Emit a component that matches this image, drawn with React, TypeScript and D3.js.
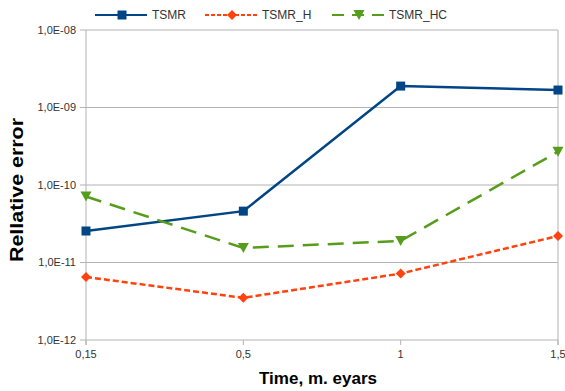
import React from "react";
import * as d3 from "d3";

const categories = ["0,15", "0,5", "1", "1,5"];
const tsmr = [2.55e-11, 4.6e-11, 1.89e-9, 1.68e-9];
const tsmrH = [6.5e-12, 3.5e-12, 7.2e-12, 2.2e-11];
const tsmrHC = [7.1e-11, 1.54e-11, 1.9e-11, 2.69e-10];
const yTicks = [1e-12, 1e-11, 1e-10, 1e-9, 1e-8];
const yTickLabels = ["1,0E-12", "1,0E-11", "1,0E-10", "1,0E-09", "1,0E-08"];

const series = [
  { name: "TSMR", values: tsmr, color: "#004586", dash: "", marker: "square" },
  { name: "TSMR_H", values: tsmrH, color: "#ff420e", dash: "6,3", marker: "diamond" },
  { name: "TSMR_HC", values: tsmrHC, color: "#579d1c", dash: "16,9", marker: "triangle" },
];

const width = 565;
const height = 391;
const margin = { top: 30, right: 7, bottom: 51, left: 86 };
const font = "'Liberation Sans', Arial, sans-serif";

function Marker({ type, x, y, color }) {
  if (type === "square") {
    return <rect x={x - 4.5} y={y - 4.5} width={9} height={9} fill={color} />;
  }
  if (type === "diamond") {
    return <path d={`M${x},${y - 5}L${x + 5},${y}L${x},${y + 5}L${x - 5},${y}Z`} fill={color} />;
  }
  return <path d={`M${x - 5.5},${y - 5}L${x + 5.5},${y - 5}L${x},${y + 5}Z`} fill={color} />;
}

export default function App() {
  const x = d3
    .scalePoint()
    .domain(categories)
    .range([margin.left, width - margin.right]);
  const y = d3
    .scaleLog()
    .domain([1e-12, 1e-8])
    .range([height - margin.bottom, margin.top]);

  const line = d3
    .line<number>()
    .x((_, i) => x(categories[i]))
    .y((d) => y(d));

  const legendX = [95, 205, 332];

  return (
    <svg width={width} height={height} style={{ position: "absolute", left: 0, top: 0, background: "#fff" }}>
      {/* grid */}
      {yTicks.map((t, i) => (
        <g key={i}>
          <line x1={margin.left - 6} x2={width - margin.right} y1={y(t)} y2={y(t)} stroke="#b3b3b3" strokeWidth={1} />
          <text x={margin.left - 10} y={y(t)} dy="0.35em" textAnchor="end" fontSize={11} fontFamily={font} fill="#333">
            {yTickLabels[i]}
          </text>
        </g>
      ))}
      {categories.map((c, i) => (
        <g key={c}>
          <line x1={x(c)} x2={x(c)} y1={margin.top} y2={height - margin.bottom + 5} stroke="#b3b3b3" strokeWidth={i === 0 || i === categories.length - 1 ? 1 : 0} />
          <line x1={x(c)} x2={x(c)} y1={height - margin.bottom} y2={height - margin.bottom + 5} stroke="#b3b3b3" />
          <text x={x(c)} y={height - margin.bottom + 18} textAnchor="middle" fontSize={11} fontFamily={font} fill="#333">
            {c}
          </text>
        </g>
      ))}

      {/* series */}
      {series.map((s) => (
        <g key={s.name}>
          <path d={line(s.values)} fill="none" stroke={s.color} strokeWidth={2.5} strokeDasharray={s.dash} />
          {s.values.map((v, i) => (
            <Marker key={i} type={s.marker} x={x(categories[i])} y={y(v)} color={s.color} />
          ))}
        </g>
      ))}

      {/* legend */}
      {series.map((s, i) => (
        <g key={s.name}>
          <line x1={legendX[i]} x2={legendX[i] + 52} y1={15} y2={15} stroke={s.color} strokeWidth={2} strokeDasharray={s.dash ? (i === 1 ? "4,2" : "12,8") : ""} />
          <Marker type={s.marker} x={legendX[i] + 27} y={15} color={s.color} />
          <text x={legendX[i] + 57} y={15} dy="0.35em" fontSize={12} fontFamily={font} fill="#333">
            {s.name}
          </text>
        </g>
      ))}

      {/* axis titles */}
      <text x={318} y={384} textAnchor="middle" fontSize={17} fontWeight="bold" fontFamily={font} fill="#000" textLength={118} lengthAdjust="spacingAndGlyphs">
        Time, m. eyars
      </text>
      <text transform="translate(23,190) rotate(-90)" textAnchor="middle" fontSize={18} fontWeight="bold" fontFamily={font} fill="#000" textLength={144} lengthAdjust="spacingAndGlyphs">
        Rellative error
      </text>
    </svg>
  );
}
